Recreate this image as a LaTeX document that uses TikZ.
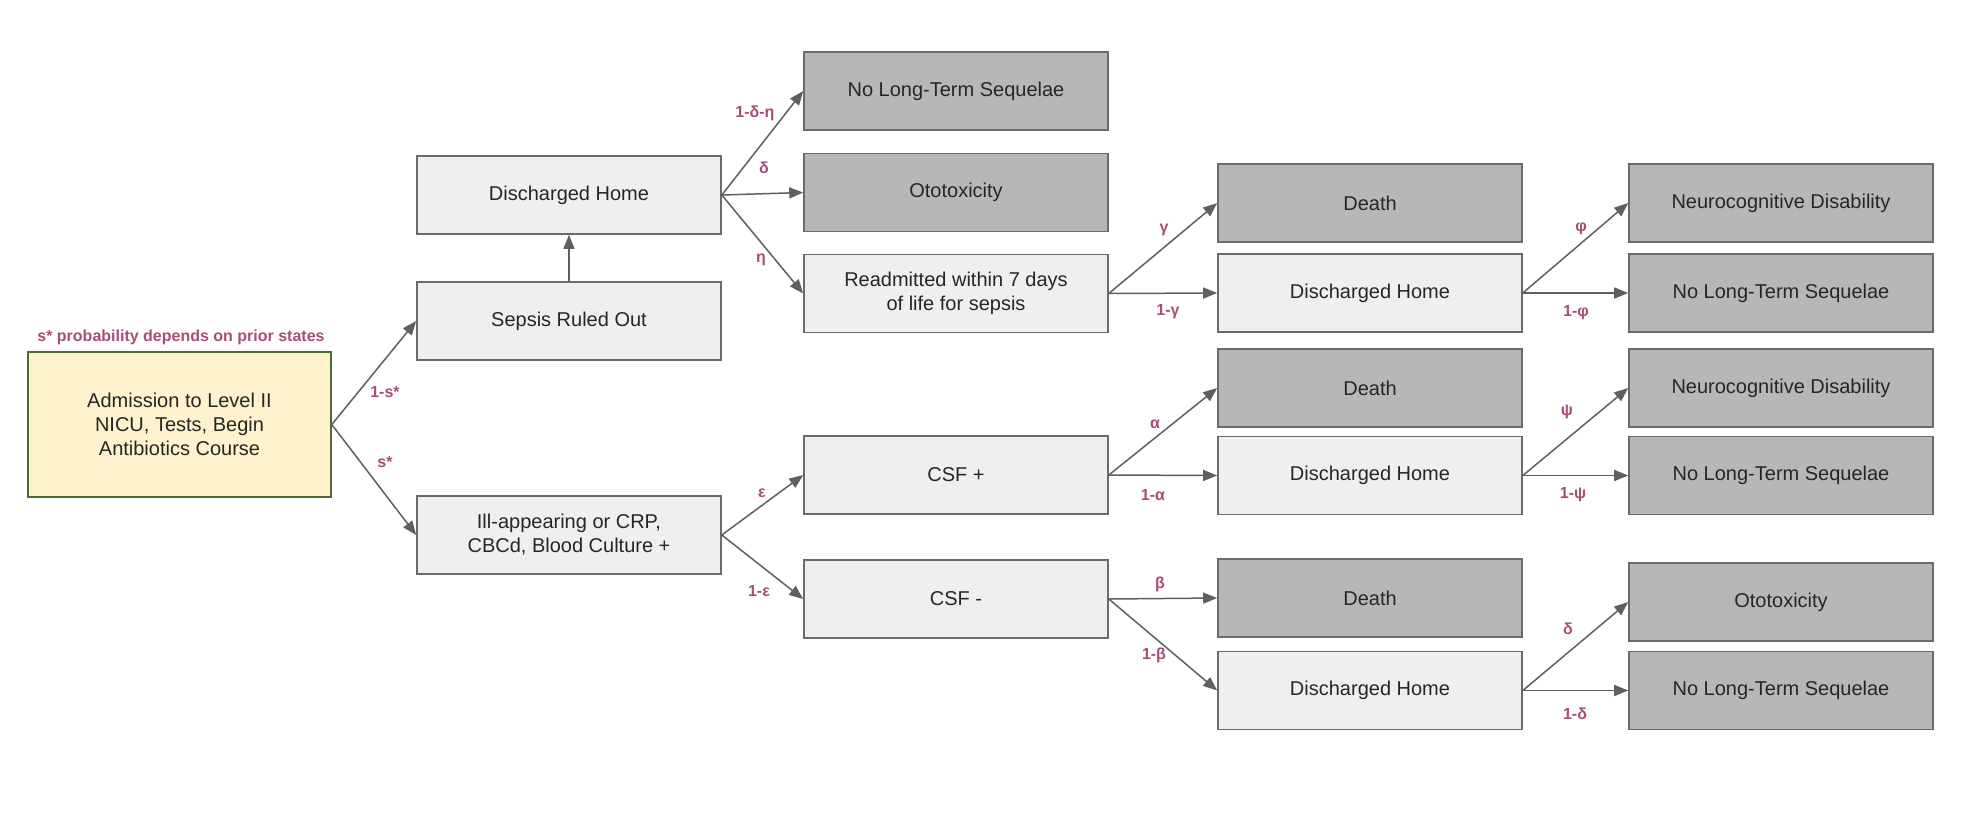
\documentclass[tikz,border=0pt]{standalone}
\usepackage{fontspec}
\setmainfont{Liberation Sans}
\usetikzlibrary{arrows.meta}
\definecolor{lightfill}{HTML}{EFEFEF}
\definecolor{darkfill}{HTML}{B7B7B7}
\definecolor{boxline}{HTML}{6B6B6B}
\definecolor{admfill}{HTML}{FFF2CC}
\definecolor{admline}{HTML}{4E6B2E}
\definecolor{lblcol}{HTML}{A64D79}
\definecolor{arrcol}{HTML}{5F5F5F}
\begin{document}
\begin{tikzpicture}[x=0.5pt,y=-0.5pt,
 box/.style={draw=boxline, line width=0.8pt, minimum width=152pt, minimum height=39pt, inner sep=0pt, align=center, font=\fontsize{10}{12}\selectfont, text=black!85},
 lbox/.style={box, fill=lightfill},
 dbox/.style={box, fill=darkfill},
 admbox/.style={box, fill=admfill, draw=admline, minimum width=151.5pt, minimum height=72.5pt},
 arr/.style={draw=arrcol, line width=0.75pt, -{Triangle[length=7pt,width=5.5pt]}},
 lbl/.style={text=lblcol, font=\fontsize{8}{9.6}\selectfont\bfseries, inner sep=0pt}]
\useasboundingbox (0,0) rectangle (1964,815);

% column 1
\node[admbox] (adm) at (179.5,424.5) {Admission to Level II\\NICU, Tests, Begin\\Antibiotics Course};
\node[lbl] (note) at (181,337) {s* probability depends on prior states};

% column 2
\node[lbox] (dh1) at (569,195) {Discharged Home};
\node[lbox] (sro) at (569,321) {Sepsis Ruled Out};
\node[lbox] (ill) at (569,535) {Ill-appearing or CRP,\\CBCd, Blood Culture +};

% column 3
\node[dbox] (nlts1) at (956,91) {No Long-Term Sequelae};
\node[dbox] (oto1) at (956,192.5) {Ototoxicity};
\node[lbox] (readm) at (956,293.5) {Readmitted within 7 days\\of life for sepsis};
\node[lbox] (csfp) at (956,475) {CSF +};
\node[lbox] (csfm) at (956,599) {CSF -};

% column 4
\node[dbox] (death1) at (1370,203) {Death};
\node[lbox] (dh2) at (1370,293) {Discharged Home};
\node[dbox] (death2) at (1370,388) {Death};
\node[lbox] (dh3) at (1370,475.5) {Discharged Home};
\node[dbox] (death3) at (1370,598) {Death};
\node[lbox] (dh4) at (1370,690.5) {Discharged Home};

% column 5
\node[dbox] (neuro1) at (1781,203) {Neurocognitive Disability};
\node[dbox] (nlts2) at (1781,293) {No Long-Term Sequelae};
\node[dbox] (neuro2) at (1781,388) {Neurocognitive Disability};
\node[dbox] (nlts3) at (1781,475.5) {No Long-Term Sequelae};
\node[dbox] (oto2) at (1781,602) {Ototoxicity};
\node[dbox] (nlts4) at (1781,690.5) {No Long-Term Sequelae};

% connectors
\draw[arr] (adm.east) -- (sro.west);
\draw[arr] (adm.east) -- (ill.west);
\draw[arr] (sro.north) -- (dh1.south);
\draw[arr] (dh1.east) -- (nlts1.west);
\draw[arr] (dh1.east) -- (oto1.west);
\draw[arr] (dh1.east) -- (readm.west);
\draw[arr] (ill.east) -- (csfp.west);
\draw[arr] (ill.east) -- (csfm.west);
\draw[arr] (readm.east) -- (death1.west);
\draw[arr] (readm.east) -- (dh2.west);
\draw[arr] (csfp.east) -- (death2.west);
\draw[arr] (csfp.east) -- (dh3.west);
\draw[arr] (csfm.east) -- (death3.west);
\draw[arr] (csfm.east) -- (dh4.west);
\draw[arr] (dh2.east) -- (neuro1.west);
\draw[arr] (dh2.east) -- (nlts2.west);
\draw[arr] (dh3.east) -- (neuro2.west);
\draw[arr] (dh3.east) -- (nlts3.west);
\draw[arr] (dh4.east) -- (oto2.west);
\draw[arr] (dh4.east) -- (nlts4.west);

% probability labels
\node[lbl] (l1) at (385,392) {1-s*};
\node[lbl] (l2) at (385,462) {s*};
\node[lbl] (l3) at (755,113) {1-δ-η};
\node[lbl] (l4) at (764,168) {δ};
\node[lbl] (l5) at (761,260) {η};
\node[lbl] (l6) at (762,493) {ε};
\node[lbl] (l7) at (759,591) {1-ε};
\node[lbl] (l8) at (1164,230) {γ};
\node[lbl] (l9) at (1168,312) {1-γ};
\node[lbl] (l10) at (1155,424) {α};
\node[lbl] (l11) at (1153,495) {1-α};
\node[lbl] (l12) at (1160,584) {β};
\node[lbl] (l13) at (1154,655) {1-β};
\node[lbl] (l14) at (1581,229) {φ};
\node[lbl] (l15) at (1576,313) {1-φ};
\node[lbl] (l16) at (1567,412) {ψ};
\node[lbl] (l17) at (1573,495) {1-ψ};
\node[lbl] (l18) at (1568,629) {δ};
\node[lbl] (l19) at (1575,714) {1-δ};
\end{tikzpicture}
\end{document}
